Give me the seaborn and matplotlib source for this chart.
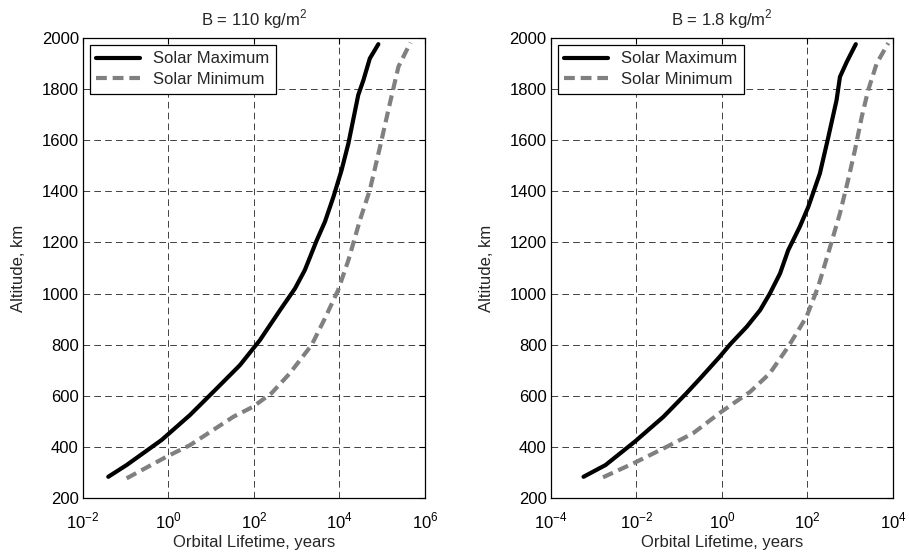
import matplotlib
matplotlib.use("Agg")
import matplotlib.pyplot as plt
import numpy as np
import pandas as pd
import seaborn as sns

# Orbital lifetime (years) vs altitude (km)
heavy_max_life = [0.039, 0.105, 0.69, 3.2, 13.5, 47, 138, 407, 912, 1550, 2950, 4570,
                  7240, 11200, 16200, 20900, 27500, 36300, 51300, 81300]
heavy_max_alt = [283, 329, 427, 525, 629, 720, 818, 935, 1020, 1092, 1209, 1281,
                 1379, 1483, 1588, 1679, 1777, 1835, 1920, 1976]
heavy_min_life = [0.105, 0.91, 3.2, 33, 95, 257, 690, 2240, 4570, 9330, 16200, 30200,
                  51300, 89100, 151000, 240000, 457000]
heavy_min_alt = [277, 362, 407, 518, 557, 610, 688, 799, 903, 1014, 1131, 1288,
                 1405, 1575, 1744, 1888, 1982]

light_max_life = [5.8e-4, 1.9e-3, 9.1e-3, 0.043, 0.148, 0.31, 0.89, 1.55, 3.8, 7.8,
                  13.2, 22.9, 35.5, 66, 105, 195, 309, 479, 575, 832, 1350]
light_max_alt = [283, 329, 420, 518, 610, 668, 753, 801, 870, 935,
                 1000, 1079, 1170, 1261, 1340, 1470, 1614, 1757, 1848, 1907, 1976]
light_min_life = [1.66e-3, 9.1e-3, 0.043, 0.21, 0.98, 4.6, 13.2, 35.5, 95, 178,
                  339, 575, 891, 1290, 1860, 2630, 4170, 7760]
light_min_alt = [281, 338, 394, 453, 538, 616, 688, 792, 909, 1027,
                 1183, 1314, 1444, 1562, 1692, 1796, 1901, 1980]

titles = ["B = 110 kg/m$^2$", "B = 1.8 kg/m$^2$"]
x_exponents = [[-2, 0, 2, 4, 6], [-4, -2, 0, 2, 4]]
series_names = ["Solar Maximum", "Solar Minimum"]

sns.set_theme(style="white")
plt.rcParams["font.family"] = ["Liberation Sans", "DejaVu Sans"]
plt.rcParams["mathtext.fontset"] = "custom"
plt.rcParams["mathtext.rm"] = "Liberation Sans"
FS = 12


def make_frame(max_life, max_alt, min_life, min_alt):
    a = pd.DataFrame({"life": max_life, "alt": max_alt, "case": series_names[0]})
    b = pd.DataFrame({"life": min_life, "alt": min_alt, "case": series_names[1]})
    return pd.concat([a, b], ignore_index=True)


frames = [
    make_frame(heavy_max_life, heavy_max_alt, heavy_min_life, heavy_min_alt),
    make_frame(light_max_life, light_max_alt, light_min_life, light_min_alt),
]

fig = plt.figure(figsize=(9.09, 5.55), dpi=100)
positions = [[0.0913, 0.1027, 0.3762, 0.8288], [0.606, 0.1027, 0.3764, 0.8288]]

for pos, df, title, exps in zip(positions, frames, titles, x_exponents):
    ax = fig.add_axes(pos)
    ax.set_xscale("log")
    for name, color, dash in [(series_names[0], "black", None),
                              (series_names[1], "#808080", (2.6, 1.4))]:
        sub = df[df["case"] == name]
        sns.lineplot(data=sub, x="life", y="alt", ax=ax, color=color,
                     linewidth=3.0, label=name, sort=False, estimator=None)
        if dash is not None:
            ax.lines[-1].set_dashes(dash)
    ticks = [10.0 ** e for e in exps]
    ax.set_xticks(ticks)
    ax.set_xticklabels([f"$10^{{{e}}}$" for e in exps])
    ax.xaxis.set_minor_locator(matplotlib.ticker.NullLocator())
    ax.set_xlim(ticks[0], ticks[-1])
    ax.set_ylim(200, 2000)
    ax.set_yticks(np.arange(200, 2001, 200))
    ax.grid(True, color="#222222", linestyle=(0, (8, 5)), linewidth=0.6)
    ax.tick_params(direction="in", top=True, right=True, length=4,
                   labelsize=FS, colors="black", width=0.8)
    ax.tick_params(axis="x", pad=9)
    ax.tick_params(axis="y", pad=3)
    for s in ax.spines.values():
        s.set_color("black")
        s.set_linewidth(0.9)
    ax.set_xlabel("Orbital Lifetime, years", fontsize=FS, labelpad=3)
    ax.set_ylabel("Altitude, km", fontsize=FS, labelpad=11)
    ax.set_title(title, fontsize=FS, pad=9)
    leg = ax.legend(loc="upper left", fancybox=False, framealpha=1,
                    edgecolor="black", fontsize=FS, handlelength=2.6,
                    borderpad=0.4, labelspacing=0.35, borderaxespad=0.4,
                    handletextpad=0.8)
    leg.get_frame().set_linewidth(0.9)

fig.savefig("out.png", dpi=100)
